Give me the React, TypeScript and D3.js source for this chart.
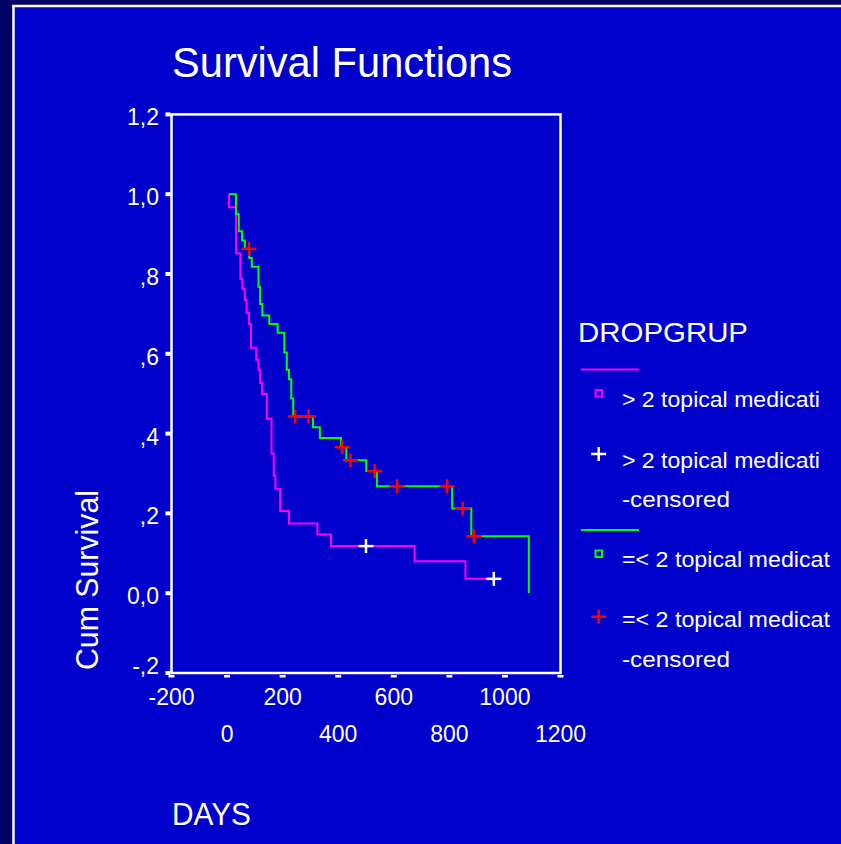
import React from "react";
import * as d3 from "d3";

// Kaplan-Meier steps
const moreDays = [7, 7, 32, 48, 55, 64, 70, 79, 86, 105, 113, 119, 126, 143, 160, 168, 174, 191, 223, 325, 374, 675, 858, 960];
const moreSurv = [1.0, 0.967, 0.852, 0.788, 0.763, 0.735, 0.702, 0.675, 0.615, 0.585, 0.56, 0.527, 0.499, 0.437, 0.35, 0.295, 0.262, 0.206, 0.175, 0.147, 0.118, 0.08, 0.036, 0.036];
const moreCensored = [500, 960];

const lessDays = [7, 32, 42, 54, 64, 80, 89, 113, 119, 127, 152, 182, 206, 215, 223, 231, 238, 309, 334, 410, 429, 501, 539, 810, 879, 1086];
const lessSurv = [1.0, 0.95, 0.907, 0.884, 0.863, 0.84, 0.818, 0.768, 0.725, 0.696, 0.675, 0.653, 0.603, 0.56, 0.536, 0.488, 0.443, 0.416, 0.389, 0.366, 0.333, 0.306, 0.268, 0.212, 0.143, 0.0];
const lessCensored = [79, 245, 293, 414, 444, 531, 612, 792, 848, 888];

const yTicks = [-0.2, 0, 0.2, 0.4, 0.6, 0.8, 1.0, 1.2];
const yTickLabels = ["-,2", "0,0", ",2", ",4", ",6", ",8", "1,0", "1,2"];
const xTicks = [-200, 0, 200, 400, 600, 800, 1000, 1200];

const legendLabels = ["> 2 topical medicati", "> 2 topical medicati", "=< 2 topical medicat", "=< 2 topical medicat"];

const FONT = "'Liberation Sans', Arial, sans-serif";
const MAGENTA = "#ff00ff";
const GREEN = "#00ff00";
const RED = "#ff0000";

function survAt(days: number[], surv: number[], t: number) {
  const i = d3.bisectRight(days, t) - 1;
  return surv[Math.max(0, i)];
}

function Plus({ x, y, color }: { x: number; y: number; color: string }) {
  return (
    <g stroke={color} strokeWidth={2.5}>
      <line x1={x - 7.5} x2={x + 7.5} y1={y} y2={y} />
      <line x1={x} x2={x} y1={y - 7} y2={y + 7} />
    </g>
  );
}

export default function App() {
  const x = d3.scaleLinear().domain([-200, 1200]).range([171.5, 560.5]);
  const y = d3.scaleLinear().domain([-0.2, 1.2]).range([673, 114.4]);

  const step = d3
    .line<[number, number]>()
    .x((d) => x(d[0]))
    .y((d) => y(d[1]))
    .curve(d3.curveStepAfter);

  const morePts = moreDays.map((d, i) => [d, moreSurv[i]] as [number, number]);
  const lessPts = lessDays.map((d, i) => [d, lessSurv[i]] as [number, number]);

  return (
    <svg width={841} height={844} style={{ position: "absolute", left: 0, top: 0 }} fontFamily={FONT}>
      <rect width={841} height={844} fill="#000066" />
      <rect x={14} y={7} width={827} height={837} fill="#0000cc" />
      <line x1={12} x2={841} y1={6} y2={6} stroke="#fff" strokeWidth={2.5} />
      <line x1={13.5} x2={13.5} y1={5} y2={844} stroke="#fff" strokeWidth={2.5} />

      <text x={172} y={77} fill="#fff" fontSize={43} textLength={340} lengthAdjust="spacingAndGlyphs">
        Survival Functions
      </text>

      {/* plot frame */}
      <rect x={x(-200)} y={y(1.2)} width={x(1200) - x(-200)} height={y(-0.2) - y(1.2)} fill="none" stroke="#fff" strokeWidth={2.5} />

      {/* y axis */}
      {yTicks.map((t, i) => (
        <g key={t}>
          <rect x={x(-200) - 6} y={y(t) - 2} width={5} height={4} fill="#fff" />
          <text
            x={159}
            y={y(t) + 11 - (i === 0 ? 10 : 0)}
            fill="#fff"
            fontSize={23}
            textAnchor="end"
          >
            {yTickLabels[i]}
          </text>
        </g>
      ))}

      {/* x axis */}
      {xTicks.map((t, i) => (
        <g key={t}>
          <rect x={x(t) - 3} y={y(-0.2) + 2} width={6} height={2.5} fill="#fff" />
          <text x={x(t)} y={i % 2 === 0 ? 705 : 742} fill="#fff" fontSize={23} textAnchor="middle">
            {t}
          </text>
        </g>
      ))}

      <text
        transform="translate(98,580) rotate(-90)"
        fill="#fff"
        fontSize={31}
        textAnchor="middle"
        textLength={180}
        lengthAdjust="spacingAndGlyphs"
      >
        Cum Survival
      </text>
      <text x={172} y={825} fill="#fff" fontSize={31} textLength={79} lengthAdjust="spacingAndGlyphs">
        DAYS
      </text>

      {/* curves */}
      <path d={step(morePts) ?? ""} fill="none" stroke={MAGENTA} strokeWidth={2} />
      <path d={step(lessPts) ?? ""} fill="none" stroke={GREEN} strokeWidth={2} />

      {moreCensored.map((t) => (
        <Plus key={"m" + t} x={x(t)} y={y(survAt(moreDays, moreSurv, t))} color="#fff" />
      ))}
      {lessCensored.map((t) => (
        <Plus key={"l" + t} x={x(t)} y={y(survAt(lessDays, lessSurv, t))} color={RED} />
      ))}

      {/* legend */}
      <text x={578} y={342} fill="#fff" fontSize={28} textLength={170} lengthAdjust="spacingAndGlyphs">
        DROPGRUP
      </text>
      <line x1={581} x2={639} y1={369.5} y2={369.5} stroke={MAGENTA} strokeWidth={2} />
      <rect x={595.5} y={390} width={6.5} height={6.5} fill="none" stroke={MAGENTA} strokeWidth={2} />
      <text x={622} y={407} fill="#fff" fontSize={22.5} textLength={198} lengthAdjust="spacingAndGlyphs">
        {legendLabels[0]}
      </text>
      <Plus x={598.7} y={454} color="#fff" />
      <text x={622} y={468} fill="#fff" fontSize={22.5} textLength={198} lengthAdjust="spacingAndGlyphs">
        {legendLabels[1]}
      </text>
      <text x={622} y={507} fill="#fff" fontSize={22.5} textLength={108} lengthAdjust="spacingAndGlyphs">
        -censored
      </text>
      <line x1={581} x2={639} y1={530} y2={530} stroke={GREEN} strokeWidth={2} />
      <rect x={595.5} y={550.5} width={6.5} height={6.5} fill="none" stroke={GREEN} strokeWidth={2} />
      <text x={622} y={567} fill="#fff" fontSize={22.5} textLength={208} lengthAdjust="spacingAndGlyphs">
        {legendLabels[2]}
      </text>
      <Plus x={598.7} y={616.7} color={RED} />
      <text x={622} y={627} fill="#fff" fontSize={22.5} textLength={208} lengthAdjust="spacingAndGlyphs">
        {legendLabels[3]}
      </text>
      <text x={622} y={667} fill="#fff" fontSize={22.5} textLength={108} lengthAdjust="spacingAndGlyphs">
        -censored
      </text>
    </svg>
  );
}
